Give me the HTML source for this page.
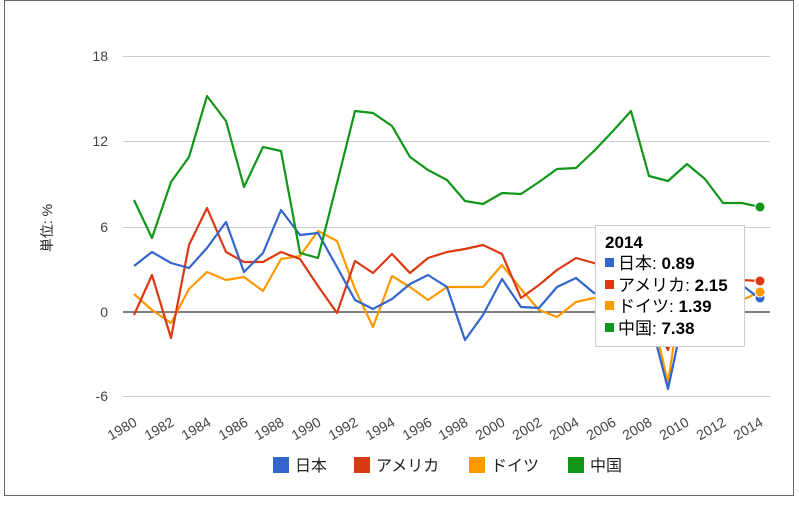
<!DOCTYPE html>
<html><head><meta charset="utf-8"><style>
body{margin:0;background:#fff;}
svg{display:block;font-family:"Liberation Sans","Noto Sans CJK JP",sans-serif;}
</style></head><body>
<svg width="799" height="506" viewBox="0 0 799 506" xmlns="http://www.w3.org/2000/svg">
<rect x="4.5" y="0.5" width="789" height="495" fill="#fff" stroke="#666" stroke-width="1"/>
<g stroke="#ccc" stroke-width="1">
<line x1="123" y1="56.5" x2="770" y2="56.5"/>
<line x1="123" y1="141.5" x2="770" y2="141.5"/>
<line x1="123" y1="227.5" x2="770" y2="227.5"/>
<line x1="123" y1="396.5" x2="770" y2="396.5"/>
</g>
<line x1="123" y1="312" x2="770" y2="312" stroke="#333" stroke-width="1.3"/>
<g font-size="14" fill="#444" text-anchor="end">
<text x="108" y="61">18</text><text x="108" y="146">12</text><text x="108" y="232">6</text><text x="108" y="317">0</text><text x="108" y="401">-6</text>
</g>
<text transform="translate(52,228) rotate(-90)" font-size="14" fill="#222" text-anchor="middle">単位: %</text>
<g font-size="14" fill="#444" text-anchor="end">
<text transform="translate(138,425) rotate(-30)">1980</text>
<text transform="translate(175,425) rotate(-30)">1982</text>
<text transform="translate(212,425) rotate(-30)">1984</text>
<text transform="translate(249,425) rotate(-30)">1986</text>
<text transform="translate(285,425) rotate(-30)">1988</text>
<text transform="translate(322,425) rotate(-30)">1990</text>
<text transform="translate(359,425) rotate(-30)">1992</text>
<text transform="translate(396,425) rotate(-30)">1994</text>
<text transform="translate(433,425) rotate(-30)">1996</text>
<text transform="translate(469,425) rotate(-30)">1998</text>
<text transform="translate(506,425) rotate(-30)">2000</text>
<text transform="translate(543,425) rotate(-30)">2002</text>
<text transform="translate(580,425) rotate(-30)">2004</text>
<text transform="translate(617,425) rotate(-30)">2006</text>
<text transform="translate(653,425) rotate(-30)">2008</text>
<text transform="translate(690,425) rotate(-30)">2010</text>
<text transform="translate(727,425) rotate(-30)">2012</text>
<text transform="translate(764,425) rotate(-30)">2014</text>
</g>
<g fill="none" stroke-width="2.2" stroke-linejoin="round">
<polyline stroke="#ff9900" points="134,294 152,310 171,323 189,289 207,272 226,280 244,277 263,291 281,259 300,256 318,231 337,241 355,289 373,327 392,276 410,287 428,300 447,287 465,287 483,287 502,265 521,289 539,310 557,317 576,302 594,298 613,297 631,290 649,300 668,383 687,255 705,290 723,305 742,300 760,292"/>
<polyline stroke="#dc3912" points="134,315 152,275 171,338 189,245 207,208 226,252 244,262 263,262 281,252 300,259 318,286 337,313 355,261 373,273 392,254 410,273 428,258 447,252 465,249 483,245 502,254 521,298 539,285 557,270 576,258 594,263 613,267 631,265 649,312 668,350 687,275 705,290 723,283 742,280 760,281"/>
<polyline stroke="#3366cc" points="134,266 152,252 171,263 189,268 207,248 226,222 244,272 263,253 281,210 300,235 318,233 337,267 355,300 373,309 392,299 410,284 428,275 447,287 465,340 483,315 502,279 521,307 539,308 557,287 576,278 594,293 613,300 631,290 649,315 668,389 687,300 705,305 723,290 742,285 760,299"/>
<polyline stroke="#109618" points="134,200 152,238 171,182 189,157 207,96 226,121 244,187 263,147 281,151 300,253 318,258 337,183 355,111 373,113 392,126 410,157 428,170 447,180 465,201 483,204 502,193 521,194 539,182 557,169 576,168 594,151 613,131 631,111 649,176 668,181 687,164 705,179 723,203 742,203 760,207"/>
</g>
<circle cx="760" cy="207" r="5" fill="#109618" stroke="#fff" stroke-width="1"/>
<circle cx="760" cy="281" r="5" fill="#dc3912" stroke="#fff" stroke-width="1"/>
<circle cx="760" cy="298" r="5" fill="#3366cc" stroke="#fff" stroke-width="1"/>
<circle cx="760" cy="292" r="5" fill="#ff9900" stroke="#fff" stroke-width="1"/>
<rect x="595.5" y="225.5" width="149" height="121" fill="#fff" stroke="#ccc"/>
<g font-size="17" fill="#000">
<text x="605" y="248" font-weight="bold">2014</text>
<rect x="605" y="258" width="9" height="9" fill="#3366cc"/><text x="618" y="269">日本: <tspan font-weight="bold">0.89</tspan></text>
<rect x="605" y="280" width="9" height="9" fill="#dc3912"/><text x="618" y="291">アメリカ: <tspan font-weight="bold">2.15</tspan></text>
<rect x="605" y="301" width="9" height="9" fill="#ff9900"/><text x="618" y="312">ドイツ: <tspan font-weight="bold">1.39</tspan></text>
<rect x="605" y="323" width="9" height="9" fill="#109618"/><text x="618" y="334">中国: <tspan font-weight="bold">7.38</tspan></text>
</g>
<g font-size="16" fill="#222">
<rect x="273" y="457" width="16" height="16" fill="#3366cc"/><text x="295" y="471">日本</text>
<rect x="354" y="457" width="16" height="16" fill="#dc3912"/><text x="376" y="471">アメリカ</text>
<rect x="469" y="457" width="16" height="16" fill="#ff9900"/><text x="491" y="471">ドイツ</text>
<rect x="568" y="457" width="16" height="16" fill="#109618"/><text x="590" y="471">中国</text>
</g>
</svg>
</body></html>
